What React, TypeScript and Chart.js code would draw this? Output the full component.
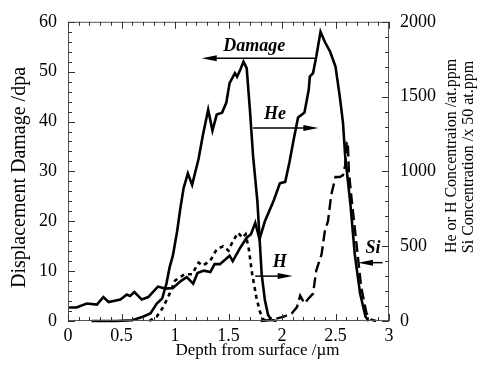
import React, { useEffect, useRef } from 'react';
import { Chart, registerables } from 'chart.js';

Chart.register(...registerables);

const FONT = 'Liberation Serif, serif';
Chart.defaults.font.family = FONT;
Chart.defaults.color = '#000';

// Displacement damage (left axis, dpa)
const damageDepth = [0, 0.08, 0.175, 0.27, 0.33, 0.38, 0.49, 0.55, 0.58, 0.62, 0.69, 0.75, 0.84, 0.91, 0.98, 1.06, 1.11, 1.17, 1.21, 1.27, 1.33, 1.37, 1.42, 1.51, 1.54, 1.61, 1.67, 1.71, 1.75, 1.79, 1.84, 1.92, 1.98, 2.03, 2.07, 2.11, 2.15, 2.21, 2.25, 2.26, 2.29, 2.32, 2.36, 2.40, 2.45, 2.50, 2.54, 2.57, 2.59, 2.64, 2.68, 2.73, 2.78, 2.81];
const damageDpa = [2.7, 2.7, 3.5, 3.3, 4.8, 3.8, 4.3, 5.3, 5.0, 5.8, 4.3, 4.8, 6.9, 6.5, 6.6, 8.1, 8.8, 7.5, 9.6, 10.1, 9.8, 11.4, 11.4, 13.1, 12.0, 14.7, 16.7, 17.4, 19.7, 16.4, 20.0, 24.0, 27.6, 27.9, 31.9, 36.5, 40.8, 41.8, 46.4, 49.0, 49.7, 53.0, 58.0, 56.0, 54.0, 51.0, 45.0, 39.8, 33.2, 23.3, 13.4, 5.5, 0.9, 0];

// He concentration (right axis, at.ppm)
const heDepth = [0.22, 0.45, 0.60, 0.70, 0.77, 0.83, 0.88, 0.92, 0.95, 0.98, 1.02, 1.05, 1.08, 1.12, 1.16, 1.22, 1.26, 1.31, 1.35, 1.39, 1.44, 1.48, 1.51, 1.56, 1.58, 1.61, 1.64, 1.67, 1.70, 1.73, 1.77, 1.81, 1.84, 1.87, 1.90, 1.95];
const hePpm = [0, 0, 5, 28, 50, 117, 150, 250, 360, 437, 600, 753, 887, 987, 910, 1083, 1240, 1413, 1273, 1380, 1393, 1460, 1590, 1657, 1633, 1680, 1733, 1690, 1413, 1100, 800, 313, 140, 40, 7, 0];

// H concentration (right axis, at.ppm)
const hDepth = [0.76, 0.83, 0.89, 0.95, 1.00, 1.09, 1.16, 1.22, 1.26, 1.33, 1.39, 1.45, 1.50, 1.54, 1.59, 1.63, 1.66, 1.69, 1.72, 1.76, 1.79, 1.82, 1.85];
const hPpm = [0, 30, 93, 183, 270, 313, 313, 390, 370, 403, 480, 500, 470, 533, 590, 557, 580, 480, 320, 160, 70, 15, 0];

// Si concentration (right axis, x 50 at.ppm)
const siDepth = [1.80, 1.90, 2.01, 2.09, 2.14, 2.17, 2.21, 2.26, 2.29, 2.32, 2.37, 2.40, 2.43, 2.46, 2.50, 2.54, 2.57, 2.59, 2.605, 2.615, 2.625, 2.65, 2.70, 2.74, 2.79, 2.84, 2.88];
const siPpm = [0, 7, 28, 50, 93, 170, 117, 160, 183, 337, 447, 600, 667, 843, 963, 963, 975, 1040, 1193, 1200, 997, 820, 490, 227, 50, 7, 0];

const xTickValues = [0, 0.5, 1, 1.5, 2, 2.5, 3];
const leftTickValues = [0, 10, 20, 30, 40, 50, 60];
const rightTickValues = [0, 500, 1000, 1500, 2000];

const xTitle = 'Depth from surface /\u00b5m';
const leftTitle = 'Displacement Damage /dpa';
const rightTitle = ['He or H Concentraion /at.ppm', 'Si Concentration /x 50 at.ppm'];

// annotations in data coordinates (x: depth, y: left axis dpa)
const annotations = [
  { text: 'Damage', tx: 1.74, ty: 55.0, from: 2.32, to: 1.25, ay: 52.7 },
  { text: 'He', tx: 1.935, ty: 41.4, from: 1.73, to: 2.34, ay: 38.7 },
  { text: 'H', tx: 1.98, ty: 11.7, from: 1.75, to: 2.10, ay: 9.0 },
  { text: 'Si', tx: 2.85, ty: 14.5, from: 2.94, to: 2.71, ay: 11.7 },
];

const pts = (xs: number[], ys: number[]) => xs.map((x, i) => ({ x, y: ys[i] }));

const decor = {
  id: 'decor',
  afterDraw(chart: any) {
    const { ctx, chartArea: a, scales } = chart;
    const xs = scales.x, yl = scales.y, yr = scales.y2;
    ctx.save();
    // frame
    ctx.strokeStyle = '#555';
    ctx.lineWidth = 1;
    ctx.strokeRect(a.left + 0.5, a.top + 0.5, a.right - a.left - 1, a.bottom - a.top - 1);
    ctx.strokeStyle = '#333';
    ctx.beginPath();
    for (let i = 0; i <= 30; i++) {
      const p = Math.round(xs.getPixelForValue(i / 10)) + 0.5;
      const len = i % 5 === 0 ? 7 : 4;
      ctx.moveTo(p, a.bottom); ctx.lineTo(p, a.bottom - len);
      ctx.moveTo(p, a.top); ctx.lineTo(p, a.top + len);
    }
    for (let v = 0; v <= 60; v += 2) {
      const p = Math.round(yl.getPixelForValue(v)) + 0.5;
      const len = v % 10 === 0 ? 7 : 4;
      ctx.moveTo(a.left, p); ctx.lineTo(a.left + len, p);
    }
    for (let v = 0; v <= 2000; v += 100) {
      const p = Math.round(yr.getPixelForValue(v)) + 0.5;
      const len = v % 500 === 0 ? 7 : 4;
      ctx.moveTo(a.right, p); ctx.lineTo(a.right - len, p);
    }
    ctx.stroke();

    // titles
    ctx.fillStyle = '#000';
    ctx.textBaseline = 'middle';
    ctx.textAlign = 'center';
    ctx.font = `17px ${FONT}`;
    ctx.fillText(xTitle, 257.5, 351);
    ctx.save();
    ctx.translate(20, 177.5);
    ctx.rotate(-Math.PI / 2);
    ctx.font = `20px ${FONT}`;
    ctx.fillText(leftTitle, 0, 0);
    ctx.restore();
    ctx.save();
    ctx.font = `16px ${FONT}`;
    ctx.translate(451.5, 156);
    ctx.rotate(-Math.PI / 2);
    ctx.fillText(rightTitle[0], 0, 0);
    ctx.restore();
    ctx.save();
    ctx.font = `16px ${FONT}`;
    ctx.translate(468.5, 157);
    ctx.rotate(-Math.PI / 2);
    ctx.fillText(rightTitle[1], 0, 0);
    ctx.restore();

    // annotations
    ctx.font = `italic bold 18px ${FONT}`;
    ctx.lineWidth = 1.5;
    ctx.strokeStyle = '#000';
    for (const an of annotations) {
      ctx.fillText(an.text, xs.getPixelForValue(an.tx), yl.getPixelForValue(an.ty));
      const x1 = xs.getPixelForValue(an.from);
      const x2 = xs.getPixelForValue(an.to);
      const y = yl.getPixelForValue(an.ay);
      const dir = x2 > x1 ? 1 : -1;
      ctx.beginPath();
      ctx.moveTo(x1, y);
      ctx.lineTo(x2 - dir * 8, y);
      ctx.stroke();
      ctx.beginPath();
      ctx.moveTo(x2, y);
      ctx.lineTo(x2 - dir * 15, y - 3);
      ctx.lineTo(x2 - dir * 15, y + 3);
      ctx.closePath();
      ctx.fill();
    }
    ctx.restore();
  },
};

export default function App() {
  const ref = useRef<HTMLCanvasElement>(null);
  useEffect(() => {
    const tickFont = { family: FONT, size: 18 };
    const chart = new Chart(ref.current as HTMLCanvasElement, {
      type: 'line',
      data: {
        datasets: [
          { label: 'Damage', data: pts(damageDepth, damageDpa), yAxisID: 'y', borderColor: '#000', borderWidth: 2.6, pointRadius: 0, tension: 0, clip: 4 } as any,
          { label: 'He', data: pts(heDepth, hePpm), yAxisID: 'y2', borderColor: '#000', borderWidth: 2.6, pointRadius: 0, tension: 0, clip: 4 } as any,
          { label: 'H', data: pts(hDepth, hPpm), yAxisID: 'y2', borderColor: '#000', borderWidth: 2.6, borderDash: [4, 4], pointRadius: 0, tension: 0, clip: 4 } as any,
          { label: 'Si', data: pts(siDepth, siPpm), yAxisID: 'y2', borderColor: '#000', borderWidth: 2.4, borderDash: [11, 5], pointRadius: 0, tension: 0, clip: 4 } as any,
        ],
      },
      options: {
        responsive: false,
        animation: false,
        devicePixelRatio: 1,
        layout: { padding: { top: 18, left: 0, right: 0, bottom: 0 } },
        plugins: { legend: { display: false }, tooltip: { enabled: false } },
        scales: {
          x: {
            type: 'linear', min: 0, max: 3,
            grid: { display: false, drawTicks: false },
            border: { display: false },
            afterBuildTicks: (s: any) => { s.ticks = xTickValues.map((v) => ({ value: v })); },
            afterFit: (s: any) => { s.height = 55; },
            ticks: { font: tickFont, color: '#000', padding: 4, maxRotation: 0, callback: (v: any) => String(v) },
          },
          y: {
            type: 'linear', position: 'left', min: 0, max: 60,
            grid: { display: false, drawTicks: false },
            border: { display: false },
            afterBuildTicks: (s: any) => { s.ticks = leftTickValues.map((v) => ({ value: v })); },
            afterFit: (s: any) => { s.width = 68; },
            ticks: { font: tickFont, color: '#000', padding: 11, callback: (v: any) => String(v) },
          },
          y2: {
            type: 'linear', position: 'right', min: 0, max: 2000,
            grid: { display: false, drawTicks: false },
            border: { display: false },
            afterBuildTicks: (s: any) => { s.ticks = rightTickValues.map((v) => ({ value: v })); },
            afterFit: (s: any) => { s.width = 98; },
            ticks: { font: tickFont, color: '#000', padding: 11, callback: (v: any) => String(v) },
          },
        },
      } as any,
      plugins: [decor],
    });
    return () => chart.destroy();
  }, []);
  return (
    <div style={{ position: 'absolute', left: 0, top: 0, width: 487, height: 376, background: '#fff' }}>
      <canvas ref={ref} width={487} height={376} style={{ display: 'block' }} />
    </div>
  );
}
